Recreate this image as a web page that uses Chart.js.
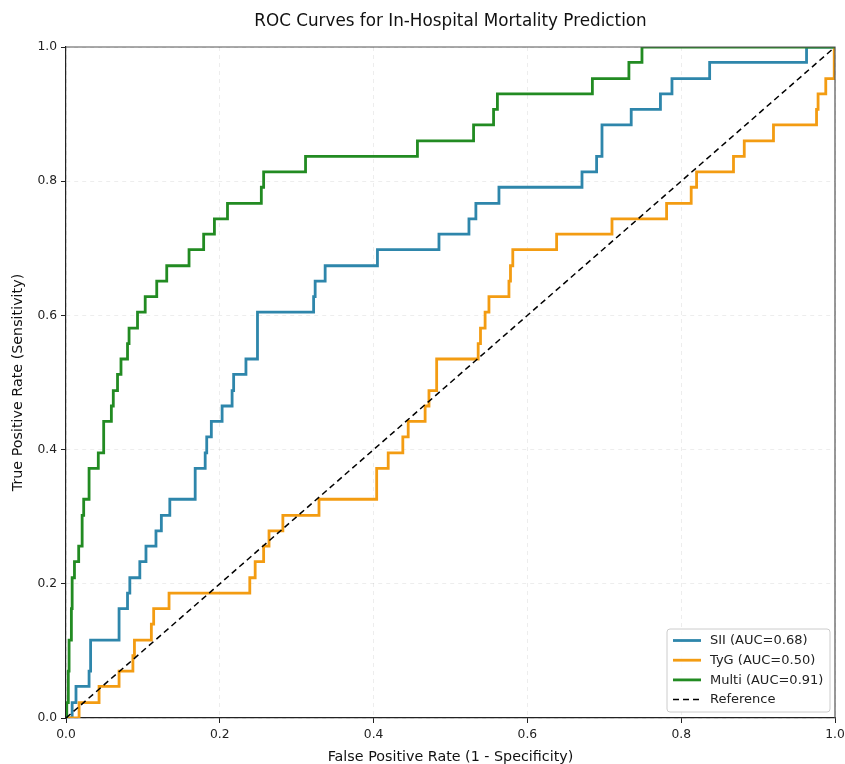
<!DOCTYPE html>
<html>
<head>
<meta charset="utf-8">
<title>ROC Curves for In-Hospital Mortality Prediction</title>
<script src="https://cdn.jsdelivr.net/npm/chart.js@4.4.1/dist/chart.umd.min.js"></script>
<style>
  html, body { margin: 0; padding: 0; background: #fff; }
  #wrap { width: 845px; height: 764px; }
</style>
</head>
<body>
<div id="wrap"><canvas id="rocChart" width="845" height="764"></canvas></div>
<script>
// Each pair = FPR where the curve steps up, TPR reached after the step
const siiFpr = [0, 0.008, 0.013, 0.030, 0.032, 0.069, 0.080, 0.083, 0.096, 0.104, 0.117, 0.124, 0.135, 0.168,
  0.181, 0.183, 0.189, 0.203, 0.216, 0.218, 0.234, 0.249, 0.322, 0.324, 0.337, 0.405, 0.485, 0.524, 0.533,
  0.563, 0.671, 0.690, 0.697, 0.735, 0.773, 0.788, 0.837, 0.963, 1.0];
const siiTpr = [0, 0.023, 0.047, 0.070, 0.116, 0.163, 0.186, 0.209, 0.233, 0.256, 0.279, 0.302, 0.326, 0.372,
  0.395, 0.419, 0.442, 0.465, 0.488, 0.512, 0.535, 0.605, 0.628, 0.651, 0.674, 0.698, 0.721, 0.744, 0.767,
  0.791, 0.814, 0.837, 0.884, 0.907, 0.930, 0.953, 0.977, 1.0, 1.0];

const tygFpr = [0, 0.017, 0.043, 0.069, 0.087, 0.089, 0.111, 0.114, 0.134, 0.239, 0.246, 0.257, 0.264, 0.282,
  0.329, 0.404, 0.419, 0.438, 0.445, 0.467, 0.472, 0.482, 0.536, 0.539, 0.545, 0.550, 0.576, 0.578, 0.581,
  0.638, 0.710, 0.781, 0.813, 0.820, 0.868, 0.882, 0.920, 0.976, 0.978, 0.988, 0.999, 1.0];
const tygTpr = [0, 0.023, 0.047, 0.070, 0.093, 0.116, 0.140, 0.163, 0.186, 0.209, 0.233, 0.256, 0.279, 0.302,
  0.326, 0.372, 0.395, 0.419, 0.442, 0.465, 0.488, 0.535, 0.558, 0.581, 0.605, 0.628, 0.651, 0.674, 0.698,
  0.721, 0.744, 0.767, 0.791, 0.814, 0.837, 0.860, 0.884, 0.907, 0.930, 0.953, 1.0, 1.0];

const multiFpr = [0, 0.001, 0.003, 0.004, 0.007, 0.008, 0.011, 0.0165, 0.021, 0.023, 0.030, 0.042, 0.049, 0.059,
  0.0615, 0.067, 0.0715, 0.080, 0.082, 0.093, 0.103, 0.118, 0.131, 0.160, 0.179, 0.193, 0.210, 0.254, 0.257,
  0.3115, 0.457, 0.530, 0.556, 0.561, 0.6845, 0.732, 0.749, 1.0];
const multiTpr = [0, 0.023, 0.070, 0.116, 0.163, 0.209, 0.233, 0.256, 0.302, 0.326, 0.372, 0.395, 0.442, 0.465,
  0.488, 0.512, 0.535, 0.558, 0.581, 0.605, 0.628, 0.651, 0.674, 0.698, 0.721, 0.744, 0.767, 0.791, 0.814,
  0.837, 0.860, 0.884, 0.907, 0.930, 0.953, 0.977, 1.0, 1.0];

const refFpr = [0, 1];
const refTpr = [0, 1];

const tickValues = [0, 0.2, 0.4, 0.6, 0.8, 1.0];
const seriesLabels = ['SII (AUC=0.68)', 'TyG (AUC=0.50)', 'Multi (AUC=0.91)', 'Reference'];
const chartTitle = 'ROC Curves for In-Hospital Mortality Prediction';

const FONT = '"DejaVu Sans", "Liberation Sans", sans-serif';

function toPoints(fpr, tpr) {
  return fpr.map((x, i) => ({ x: x, y: tpr[i] }));
}

// title centred over the plot area, plus top/right frame lines
const frameBox = {
  id: 'frameBox',
  afterDatasetsDraw(chart) {
    const { ctx, chartArea: a } = chart;
    ctx.save();
    ctx.strokeStyle = '#555';
    ctx.lineWidth = 1.2;
    ctx.beginPath();
    ctx.moveTo(a.left, a.top);
    ctx.lineTo(a.right, a.top);
    ctx.lineTo(a.right, a.bottom);
    ctx.stroke();

    ctx.font = '16.8px ' + FONT;
    ctx.fillStyle = '#111';
    ctx.textAlign = 'center';
    ctx.textBaseline = 'middle';
    ctx.fillText(chartTitle, (a.left + a.right) / 2, 22);
    ctx.restore();
  }
};

// legend placed in the lower right corner of the plot
const insideLegend = {
  id: 'insideLegend',
  afterDraw(chart) {
    const { ctx, chartArea: a } = chart;
    const boxW = 163, boxH = 83;
    const x0 = a.right - 5 - boxW;
    const y0 = a.bottom - 6 - boxH;
    ctx.save();
    ctx.beginPath();
    if (ctx.roundRect) ctx.roundRect(x0, y0, boxW, boxH, 3);
    else ctx.rect(x0, y0, boxW, boxH);
    ctx.fillStyle = 'rgba(255,255,255,0.85)';
    ctx.fill();
    ctx.strokeStyle = '#cccccc';
    ctx.lineWidth = 1;
    ctx.stroke();

    ctx.font = '13px ' + FONT;
    ctx.textBaseline = 'middle';
    ctx.fillStyle = '#222';
    chart.data.datasets.forEach((ds, row) => {
      const cy = y0 + 11.5 + row * 19.7;
      ctx.beginPath();
      ctx.strokeStyle = ds.borderColor;
      ctx.lineWidth = ds.borderWidth;
      ctx.setLineDash(ds.borderDash || []);
      ctx.moveTo(x0 + 6, cy);
      ctx.lineTo(x0 + 34, cy);
      ctx.stroke();
      ctx.setLineDash([]);
      ctx.fillText(ds.label, x0 + 43, cy + 0.5);
    });
    ctx.restore();
  }
};

const ctx = document.getElementById('rocChart').getContext('2d');
const chart = new Chart(ctx, {
  type: 'scatter',
  data: {
    datasets: [
      {
        label: seriesLabels[0],
        data: toPoints(siiFpr, siiTpr),
        borderColor: '#2E86AB',
        borderWidth: 2.8,
        stepped: 'before',
        order: 4
      },
      {
        label: seriesLabels[1],
        data: toPoints(tygFpr, tygTpr),
        borderColor: '#F39C12',
        borderWidth: 2.8,
        stepped: 'before',
        order: 3
      },
      {
        label: seriesLabels[2],
        data: toPoints(multiFpr, multiTpr),
        borderColor: '#228B22',
        borderWidth: 2.8,
        stepped: 'before',
        order: 2
      },
      {
        label: seriesLabels[3],
        data: toPoints(refFpr, refTpr),
        borderColor: '#000000',
        borderWidth: 1.5,
        borderDash: [6, 4],
        order: 1
      }
    ]
  },
  options: {
    responsive: false,
    animation: false,
    showLine: true,
    layout: { padding: { left: 0, right: 10, top: 47, bottom: 0 } },
    elements: { point: { radius: 0, hoverRadius: 0 } },
    plugins: {
      legend: { display: false },
      tooltip: { enabled: false },
      title: { display: false }
    },
    scales: {
      x: {
        type: 'linear',
        min: 0,
        max: 1,
        afterBuildTicks: (scale) => { scale.ticks = tickValues.map(v => ({ value: v })); },
        afterFit: (scale) => {
          scale.height = 46;
          scale.paddingLeft = 0;
          scale.paddingRight = 0;
        },
        ticks: {
          color: '#222',
          padding: 4,
          maxRotation: 0,
          font: { family: FONT, size: 12.3 },
          callback: (v) => Number(v).toFixed(1)
        },
        grid: {
          color: 'rgba(0,0,0,0.09)',
          lineWidth: 0.8,
          tickColor: '#222',
          tickLength: 5,
          tickWidth: 1
        },
        border: { display: true, color: '#222', width: 1.2, dash: [4, 4] },
        title: {
          display: true,
          text: 'False Positive Rate (1 - Specificity)',
          color: '#111',
          font: { family: FONT, size: 14.3, lineHeight: 1.0 },
          padding: { top: 0, bottom: 0 }
        }
      },
      y: {
        type: 'linear',
        min: 0,
        max: 1,
        afterBuildTicks: (scale) => { scale.ticks = tickValues.map(v => ({ value: v })); },
        afterFit: (scale) => {
          scale.width = 66;
          scale.paddingTop = 0;
          scale.paddingBottom = 0;
        },
        ticks: {
          color: '#222',
          padding: 4,
          font: { family: FONT, size: 12.3 },
          callback: (v) => Number(v).toFixed(1)
        },
        grid: {
          color: 'rgba(0,0,0,0.09)',
          lineWidth: 0.8,
          tickColor: '#222',
          tickLength: 5,
          tickWidth: 1
        },
        border: { display: true, color: '#222', width: 1.2, dash: [4, 4] },
        title: {
          display: true,
          text: 'True Positive Rate (Sensitivity)',
          color: '#111',
          font: { family: FONT, size: 14.3, lineHeight: 1.2 },
          padding: { top: 10, bottom: 0 }
        }
      }
    }
  },
  plugins: [frameBox, insideLegend]
});
</script>
</body>
</html>
